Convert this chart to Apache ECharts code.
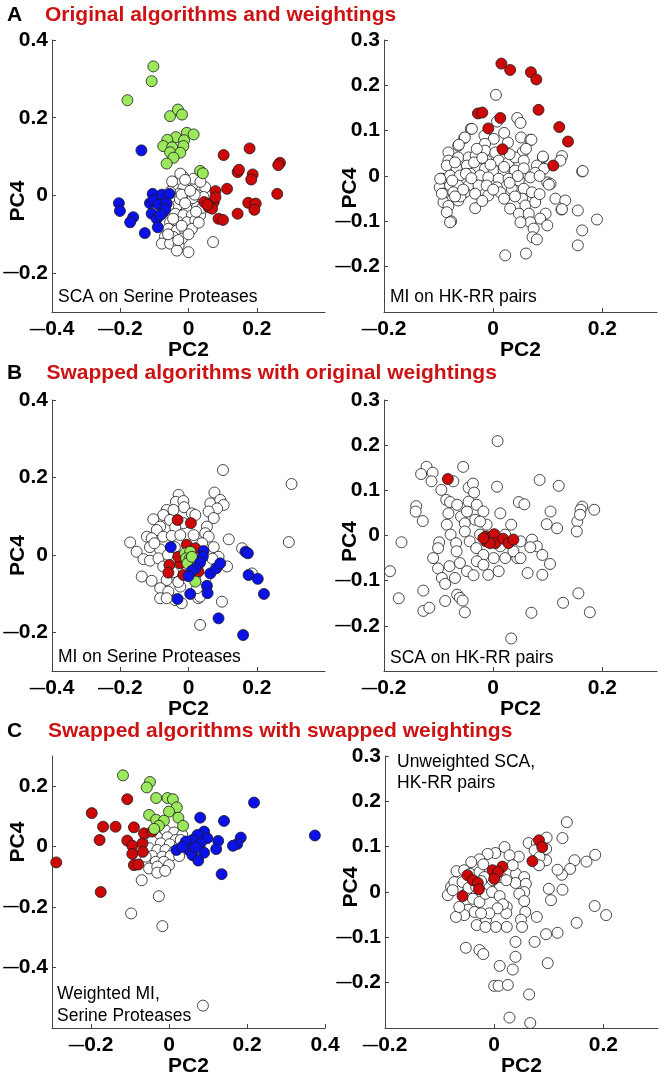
<!DOCTYPE html>
<html>
<head>
<meta charset="utf-8">
<script src="https://cdn.jsdelivr.net/npm/echarts@6.0.0/dist/echarts.min.js"></script>
<style>
html,body{margin:0;padding:0;background:#fff;}
#chart{width:664px;height:1081px;}
</style>
</head>
<body>
<div id="chart"></div>
<script>
// ---------------- DATA ----------------
// Panel A, left: SCA on Serine Proteases
const aLeftWhite = [[-0.016,0.049],[-0.032,0.034],[0.000,0.030],[0.026,0.026],[-0.044,0.021],[-0.015,0.020],[0.015,0.017],[0.039,0.013],[-0.029,0.004],[0.000,0.000],[0.029,0.000],[-0.044,-0.009],[-0.015,-0.013],[0.034,-0.013],[0.005,-0.021],[-0.034,-0.026],[-0.005,-0.034],[0.025,-0.030],[-0.039,-0.047],[-0.015,-0.051],[0.010,-0.051],[0.034,-0.051],[-0.054,-0.069],[-0.029,-0.069],[-0.005,-0.069],[0.020,-0.064],[-0.059,-0.086],[-0.034,-0.090],[-0.010,-0.090],[0.010,-0.086],[-0.069,-0.106],[-0.044,-0.107],[-0.019,-0.111],[-0.078,-0.124],[-0.054,-0.124],[-0.029,-0.129],[-0.034,-0.142],[0.000,-0.146],[0.072,-0.120],[-0.054,0.009],[0.049,0.021],[0.015,0.043],[-0.024,0.056],[0.044,-0.004],[-0.059,-0.026],[0.012,-0.007],[-0.025,-0.010],[0.040,-0.032],[-0.020,0.002],[0.018,0.002],[-0.048,0.036],[0.005,0.012],[-0.010,-0.020],[0.022,-0.042],[-0.045,-0.060],[-0.020,-0.078],[0.000,-0.100],[-0.060,-0.100],[-0.030,-0.115],[0.030,-0.070],[-0.010,0.040],[0.035,0.035]];
const aLeftRed = [[0.103,0.104],[0.179,0.121],[0.268,0.084],[0.263,0.078],[0.144,0.060],[0.148,0.066],[0.188,0.054],[0.184,0.041],[0.113,0.017],[0.079,0.011],[0.260,0.004],[0.175,-0.019],[0.197,-0.021],[0.193,-0.037],[0.144,-0.047],[0.046,-0.017],[0.074,-0.017],[0.059,-0.030],[0.069,-0.034],[0.088,-0.060],[0.101,-0.063],[0.079,-0.005],[0.055,-0.024]];
const aLeftGreen = [[-0.103,0.332],[-0.108,0.294],[-0.179,0.245],[-0.054,0.204],[-0.031,0.221],[-0.019,0.208],[-0.005,0.161],[0.015,0.157],[-0.037,0.150],[-0.062,0.143],[-0.013,0.142],[-0.074,0.127],[-0.048,0.124],[-0.015,0.127],[-0.054,0.111],[-0.024,0.110],[-0.044,0.097],[-0.064,0.082],[0.034,0.063],[0.042,0.057]];
const aLeftBlue = [[-0.138,0.116],[-0.204,-0.020],[-0.201,-0.040],[-0.162,-0.056],[-0.171,-0.069],[-0.128,-0.097],[-0.105,0.004],[-0.078,0.002],[-0.056,0.004],[-0.113,-0.020],[-0.103,-0.013],[-0.088,-0.023],[-0.064,-0.021],[-0.108,-0.047],[-0.074,-0.043],[-0.093,-0.060],[-0.090,-0.082],[-0.068,-0.035],[-0.082,-0.050]];

// Panel A, right: MI on HK-RR pairs
const aRightWhite = [[0.005,0.179],[-0.041,0.104],[0.007,0.120],[0.044,0.128],[0.050,0.117],[-0.053,0.084],[-0.016,0.089],[0.001,0.082],[0.027,0.074],[0.051,0.085],[0.068,0.080],[-0.064,0.067],[-0.015,0.071],[-0.015,0.056],[0.004,0.052],[0.054,0.052],[-0.082,0.052],[0.091,0.041],[0.126,0.044],[0.123,0.034],[0.163,0.010],[-0.082,0.034],[-0.064,0.041],[-0.045,0.041],[-0.032,0.045],[-0.012,0.034],[0.010,0.034],[0.028,0.030],[0.040,0.041],[0.056,0.034],[0.080,0.023],[0.093,0.016],[-0.085,0.023],[-0.067,0.017],[-0.048,0.023],[-0.030,0.019],[-0.015,0.016],[0.001,0.012],[0.019,0.012],[0.040,0.012],[0.056,0.017],[0.077,0.007],[-0.094,-0.006],[-0.079,0.001],[-0.061,0.001],[-0.042,0.005],[-0.024,0.001],[-0.009,-0.003],[0.010,-0.006],[0.028,-0.006],[0.047,-0.010],[0.068,-0.003],[0.099,-0.014],[0.105,-0.017],[-0.098,-0.025],[-0.079,-0.021],[-0.064,-0.021],[-0.045,-0.021],[-0.027,-0.021],[-0.012,-0.021],[0.007,-0.025],[0.034,-0.028],[0.056,-0.028],[0.071,-0.036],[-0.091,-0.039],[-0.073,-0.036],[-0.052,-0.036],[-0.033,-0.039],[-0.009,-0.043],[0.013,-0.036],[-0.091,-0.058],[-0.064,-0.054],[-0.082,-0.066],[-0.085,-0.080],[-0.077,-0.100],[-0.033,-0.071],[0.031,-0.072],[0.053,-0.050],[0.059,-0.065],[0.077,-0.058],[0.047,-0.083],[0.065,-0.083],[0.096,-0.083],[0.086,-0.094],[0.099,-0.109],[0.068,-0.102],[0.050,-0.102],[0.074,-0.116],[0.072,-0.135],[0.080,-0.140],[0.114,-0.050],[0.132,-0.054],[0.125,-0.074],[0.155,-0.076],[0.190,-0.096],[0.163,-0.120],[0.155,-0.153],[0.022,-0.175],[0.060,-0.171],[-0.039,0.104],[-0.052,0.085],[-0.063,0.069],[0.070,0.080],[0.164,0.011],[0.091,0.043],[0.102,-0.019],[0.126,-0.073],[-0.079,-0.102],[-0.094,-0.039],[-0.097,-0.006],[0.020,0.095],[-0.030,0.060],[0.030,0.048],[-0.050,0.005],[0.085,0.000],[-0.060,-0.045],[0.020,-0.050],[-0.020,-0.055],[-0.070,0.030],[-0.035,0.030],[-0.005,0.025],[0.045,0.000],[-0.075,-0.010],[-0.040,-0.005],[0.020,0.020],[-0.055,-0.030],[0.000,-0.030],[0.085,-0.040],[0.040,-0.045],[-0.070,-0.045],[0.060,0.060],[-0.020,0.040],[0.030,-0.015]];
const aRightRed = [[0.015,0.248],[0.031,0.234],[0.069,0.229],[0.079,0.213],[0.083,0.146],[-0.028,0.138],[-0.020,0.140],[0.013,0.128],[-0.009,0.105],[0.121,0.108],[0.137,0.076],[0.017,0.059],[0.110,0.023]];

// Panel B, left: MI on Serine Proteases
const bLeftWhite = [[0.101,0.219],[-0.029,0.155],[-0.037,0.137],[-0.015,0.139],[-0.013,0.123],[0.076,0.161],[0.064,0.133],[0.093,0.142],[0.103,0.129],[0.084,0.120],[0.059,0.112],[0.074,0.095],[-0.064,0.116],[-0.044,0.116],[-0.074,0.103],[-0.103,0.092],[-0.054,0.090],[0.010,0.107],[0.020,0.103],[-0.015,0.082],[-0.083,0.073],[-0.039,0.071],[-0.093,0.064],[0.054,0.073],[0.049,0.056],[0.059,0.047],[-0.122,0.047],[-0.108,0.043],[-0.074,0.047],[-0.049,0.049],[-0.024,0.051],[0.015,0.051],[-0.171,0.032],[-0.113,0.020],[-0.083,0.014],[-0.152,0.008],[-0.132,-0.011],[-0.113,-0.015],[-0.088,-0.009],[-0.074,-0.030],[0.118,0.040],[0.074,0.020],[0.088,-0.005],[0.113,-0.030],[-0.137,-0.056],[-0.108,-0.067],[-0.064,-0.065],[-0.083,-0.086],[-0.059,-0.095],[-0.039,-0.117],[-0.024,-0.082],[0.029,-0.112],[0.098,-0.121],[0.034,-0.181],[0.157,0.017],[0.302,0.183],[0.294,0.033],[0.186,-0.048],[-0.083,-0.112],[-0.064,-0.112],[-0.020,-0.125],[0.034,-0.108],[0.025,-0.086],[-0.100,0.030],[-0.060,0.000],[-0.040,0.020],[-0.045,-0.045],[0.040,0.030],[0.050,-0.060],[-0.030,-0.070],[0.070,-0.010]];
const bLeftRed = [[-0.032,0.090],[0.007,0.082],[-0.005,0.026],[0.020,0.017],[-0.024,-0.022],[-0.056,-0.026],[-0.059,-0.046],[-0.015,-0.052],[0.029,-0.043],[0.005,-0.013],[-0.030,-0.005]];
const bLeftGreen = [[-0.010,0.004],[0.005,0.008],[-0.007,-0.009],[0.003,-0.011],[0.023,-0.018],[-0.003,-0.022],[0.010,-0.005],[0.020,-0.069]];
const bLeftBlue = [[-0.052,0.020],[0.044,0.010],[0.042,-0.005],[0.034,-0.020],[0.020,-0.035],[0.010,-0.041],[0.000,-0.055],[0.064,-0.048],[0.081,-0.035],[0.093,-0.022],[0.054,-0.080],[0.056,-0.099],[0.005,-0.101],[-0.032,-0.114],[0.088,-0.164],[0.160,-0.207],[0.167,0.008],[0.174,0.004],[0.176,-0.052],[0.203,-0.062],[0.221,-0.101]];

// Panel B, right: SCA on HK-RR pairs
const bRightWhite = [[0.008,0.209],[-0.122,0.152],[-0.055,0.152],[-0.132,0.136],[-0.111,0.139],[-0.113,0.120],[-0.073,0.120],[-0.095,0.101],[-0.045,0.106],[-0.037,0.115],[-0.035,0.095],[0.007,0.108],[0.085,0.123],[0.120,0.110],[-0.141,0.065],[-0.142,0.053],[-0.129,0.032],[-0.086,0.079],[-0.079,0.074],[-0.066,0.068],[-0.045,0.075],[-0.030,0.068],[-0.018,0.053],[0.013,0.049],[-0.082,0.049],[-0.059,0.042],[-0.033,0.035],[-0.052,0.027],[-0.012,0.024],[-0.085,0.024],[0.033,0.024],[0.047,0.074],[0.057,0.069],[0.105,0.053],[0.098,0.025],[0.117,0.016],[0.154,0.031],[0.163,0.064],[0.160,0.057],[0.159,0.046],[0.185,0.057],[0.153,0.009],[-0.168,-0.015],[-0.189,-0.079],[-0.099,-0.015],[-0.101,-0.028],[-0.078,0.002],[-0.068,-0.017],[-0.052,0.009],[-0.043,-0.013],[-0.031,-0.028],[-0.024,0.002],[0.050,-0.013],[0.071,-0.009],[0.080,-0.024],[0.090,-0.043],[0.104,-0.063],[-0.110,-0.050],[-0.101,-0.073],[-0.080,-0.068],[-0.061,-0.061],[-0.048,-0.079],[-0.036,-0.088],[-0.018,-0.043],[-0.009,-0.087],[0.010,-0.079],[0.001,-0.050],[0.022,-0.050],[0.044,-0.050],[0.013,-0.024],[0.063,-0.083],[0.090,-0.087],[-0.094,-0.094],[-0.088,-0.107],[-0.070,-0.094],[-0.128,-0.122],[-0.173,-0.139],[-0.088,-0.145],[-0.066,-0.131],[-0.061,-0.138],[-0.056,-0.144],[-0.128,-0.167],[-0.117,-0.160],[-0.052,-0.170],[0.070,-0.171],[0.128,-0.149],[0.156,-0.128],[0.177,-0.170],[0.033,-0.228],[-0.048,0.053],[-0.024,0.031],[0.022,0.002],[0.037,-0.035],[0.050,-0.050],[-0.030,-0.057],[-0.018,-0.065],[0.068,-0.026],[-0.067,-0.035]];
const bRightRed = [[-0.083,0.125],[-0.013,-0.002],[-0.013,-0.013],[-0.006,-0.006],[0.002,0.003],[0.004,-0.017],[0.018,-0.007],[0.028,-0.017],[0.037,-0.009],[-0.006,-0.017],[-0.018,-0.006]];

// Panel C, left: Weighted MI, Serine Proteases
const cLeftWhite = [[-0.070,-0.111],[-0.026,-0.164],[-0.097,-0.221],[-0.017,-0.263],[0.087,-0.526],[-0.010,0.055],[0.013,0.047],[0.034,0.039],[-0.030,0.031],[-0.004,0.031],[0.017,0.022],[-0.043,0.017],[-0.021,0.011],[0.002,0.008],[0.026,0.000],[-0.051,-0.005],[-0.030,-0.011],[-0.009,-0.011],[0.013,-0.017],[-0.043,-0.031],[-0.017,-0.033],[0.004,-0.031],[0.026,-0.031],[-0.034,-0.050],[-0.013,-0.050],[-0.051,-0.072],[-0.030,-0.066],[0.000,-0.061],[-0.030,-0.086],[-0.010,-0.080],[-0.060,-0.033],[0.030,0.022]];
const cLeftRed = [[-0.289,-0.052],[-0.198,0.111],[-0.107,0.157],[-0.169,0.066],[-0.137,0.066],[-0.178,0.022],[-0.175,-0.150],[-0.090,0.064],[-0.107,0.020],[-0.094,0.003],[-0.068,0.011],[-0.064,0.044],[-0.043,0.050],[-0.094,-0.024],[-0.067,-0.017],[-0.090,-0.061],[-0.079,-0.059]];
const cLeftGreen = [[-0.118,0.236],[-0.049,0.214],[-0.057,0.196],[-0.033,0.161],[-0.004,0.161],[0.010,0.157],[0.020,0.130],[0.000,0.116],[-0.051,0.105],[-0.033,0.089],[-0.013,0.086],[0.024,0.096],[-0.026,0.069],[-0.038,0.059],[0.036,0.069]];
const cLeftBlue = [[0.218,0.146],[0.374,0.037],[0.080,0.096],[0.141,0.085],[0.090,0.050],[0.073,0.039],[0.098,0.028],[0.060,0.022],[0.043,0.017],[0.081,0.011],[0.126,0.019],[0.121,-0.008],[0.184,0.030],[0.175,0.009],[0.164,0.003],[0.019,-0.011],[0.051,-0.011],[0.060,-0.028],[0.090,-0.020],[0.075,-0.046],[0.135,-0.091],[0.034,0.000],[0.068,-0.002]];

// Panel C, right: Unweighted SCA, HK-RR pairs
const cRightWhite = [[0.133,0.154],[0.125,0.119],[0.096,0.120],[0.095,0.095],[0.095,0.070],[0.147,0.070],[0.169,0.067],[0.185,0.082],[0.139,0.051],[0.124,0.038],[0.116,0.049],[0.125,0.005],[0.100,0.007],[0.104,-0.018],[0.184,-0.031],[0.205,-0.051],[0.151,-0.068],[0.116,-0.090],[0.095,-0.093],[0.074,-0.110],[0.098,-0.157],[0.039,-0.110],[0.039,-0.143],[0.034,-0.171],[0.010,-0.163],[-0.052,-0.123],[-0.027,-0.128],[-0.020,-0.137],[0.000,-0.207],[0.008,-0.207],[0.025,-0.205],[0.064,-0.226],[0.028,-0.277],[0.066,-0.289],[0.063,0.108],[0.078,0.108],[0.074,0.092],[0.083,0.077],[0.082,0.059],[0.045,0.078],[0.002,0.086],[0.019,0.099],[0.028,0.081],[-0.012,0.084],[-0.027,0.072],[-0.042,0.066],[0.040,0.040],[0.055,0.033],[0.039,0.020],[0.058,0.018],[0.055,0.000],[0.046,-0.004],[0.055,-0.020],[0.023,-0.033],[0.022,-0.047],[0.057,-0.044],[0.049,-0.061],[0.051,-0.077],[0.078,-0.055],[0.023,-0.077],[0.003,-0.077],[-0.015,-0.061],[-0.032,-0.073],[-0.016,-0.077],[-0.048,-0.039],[-0.036,-0.044],[-0.055,-0.051],[-0.070,-0.055],[-0.064,-0.033],[-0.085,-0.007],[-0.079,0.011],[-0.073,0.022],[-0.069,0.046],[-0.058,0.022],[-0.076,0.004],[-0.052,-0.004],[-0.039,-0.015],[-0.027,-0.022],[-0.016,-0.004],[-0.009,0.015],[-0.003,0.026],[-0.004,0.000],[0.010,-0.009],[0.016,-0.027],[0.006,-0.036],[-0.009,-0.047],[-0.024,-0.047],[-0.055,0.048],[-0.044,0.040],[-0.027,0.044],[-0.018,0.033],[0.012,0.033],[0.022,0.026],[-0.020,0.061],[0.034,0.059],[-0.047,0.009],[-0.033,0.011],[-0.024,0.024]];
const cRightRed = [[0.082,0.114],[0.088,0.099],[0.070,0.068],[0.015,0.056],[-0.003,0.048],[0.007,0.044],[0.000,0.029],[-0.049,0.037],[-0.039,0.026],[-0.030,0.020],[-0.028,0.006],[-0.058,-0.009]];

// Axis ranges and tick labels
const leftSerineXRange = [-0.4, 0.4], leftSerineXTicks = [-0.4, -0.2, 0, 0.2];
const leftSerineYRange = [-0.3, 0.4], leftSerineYTicks = [0.4, 0.2, 0, -0.2];
const hkXRange = [-0.2, 0.3], hkXTicks = [-0.2, 0, 0.2];
const hkYRange = [-0.3, 0.3], hkYTicks = [0.3, 0.2, 0.1, 0, -0.1, -0.2];
const cLeftXRange = [-0.3, 0.4], cLeftXTicks = [-0.2, 0, 0.2, 0.4];
const cLeftYRange = [-0.6, 0.3], cLeftYTicks = [0.2, 0, -0.2, -0.4];

// Texts
const panelLetters = ['A', 'B', 'C'];
const panelTitles = ['Original algorithms and weightings', 'Swapped algorithms with original weightings', 'Swapped algorithms with swapped weightings'];
const panelNotes = ['SCA on Serine Proteases', 'MI on HK-RR pairs', 'MI on Serine Proteases', 'SCA on HK-RR pairs', 'Weighted MI,\nSerine Proteases', 'Unweighted SCA,\nHK-RR pairs'];
const xName = 'PC2', yName = 'PC4';

// ---------------- STYLE / LAYOUT ----------------
const FONT = "'Liberation Sans', Arial, Helvetica, sans-serif";
const COLORS = { white: '#ffffff', red: '#cc0808', green: '#9be85c', blue: '#0a12e8' };
const TITLE_RED = '#cc1212';

// yShift: vertical offset (px, + = down) of the PC4 label from the axis middle
const panels = [
  { grid: { left: 52, top: 40, width: 273, height: 272 }, xr: leftSerineXRange, xt: leftSerineXTicks, yr: leftSerineYRange, yt: leftSerineYTicks, yShift: 25,
    groups: { white: aLeftWhite, red: aLeftRed, green: aLeftGreen, blue: aLeftBlue } },
  { grid: { left: 384, top: 40, width: 273, height: 272 }, xr: hkXRange, xt: hkXTicks, yr: hkYRange, yt: hkYTicks, yShift: 12,
    groups: { white: aRightWhite, red: aRightRed } },
  { grid: { left: 52, top: 400, width: 273, height: 271 }, xr: leftSerineXRange, xt: leftSerineXTicks, yr: leftSerineYRange, yt: leftSerineYTicks, yShift: 20,
    groups: { white: bLeftWhite, red: bLeftRed, green: bLeftGreen, blue: bLeftBlue } },
  { grid: { left: 384, top: 400, width: 273, height: 271 }, xr: hkXRange, xt: hkXTicks, yr: hkYRange, yt: hkYTicks, yShift: 6,
    groups: { white: bRightWhite, red: bRightRed } },
  { grid: { left: 52, top: 756, width: 273, height: 272 }, xr: cLeftXRange, xt: cLeftXTicks, yr: cLeftYRange, yt: cLeftYTicks, yShift: -50,
    groups: { white: cLeftWhite, red: cLeftRed, green: cLeftGreen, blue: cLeftBlue } },
  { grid: { left: 385, top: 756, width: 273, height: 272 }, xr: hkXRange, xt: hkXTicks, yr: hkYRange, yt: hkYTicks, yShift: -5,
    groups: { white: cRightWhite, red: cRightRed } }
];

function fmt(v) {
  if (Math.abs(v) < 1e-9) return '0';
  return (v < 0 ? '{d|\u2014}' : '') + Math.abs(v).toFixed(1);
}
function makeFormatter(ticks) {
  return function (v) {
    for (const t of ticks) if (Math.abs(t - v) < 1e-6) return fmt(v);
    return '';
  };
}

const labelFont = { fontFamily: FONT, fontWeight: 'bold', fontSize: 21, color: '#000' };
const dashRich = { d: { fontFamily: FONT, fontWeight: 'bold', fontSize: 15.5, color: '#000' } };
const grids = [], xAxes = [], yAxes = [], series = [];
panels.forEach((p, i) => {
  grids.push(Object.assign({ containLabel: false, outerBoundsMode: 'none', show: false }, p.grid));
  const s = p.yShift;
  const namePad = s >= 0 ? [0, 2 * s, 0, 0] : [0, 0, 0, -2 * s];
  xAxes.push({
    type: 'value', gridIndex: i, min: p.xr[0], max: p.xr[1], interval: 0.1,
    name: xName, nameLocation: 'middle', nameGap: 28, nameMoveOverlap: false,
    nameTextStyle: labelFont,
    axisLine: { show: true, onZero: false, lineStyle: { color: '#444', width: 1 } },
    axisTick: { show: true, inside: true, length: 4, customValues: p.xt, lineStyle: { color: '#444' } },
    axisLabel: Object.assign({ customValues: p.xt, formatter: makeFormatter(p.xt), margin: 7, hideOverlap: false, rich: dashRich }, labelFont),
    splitLine: { show: false }
  });
  yAxes.push({
    type: 'value', gridIndex: i, min: p.yr[0], max: p.yr[1], interval: 0.1,
    name: yName, nameLocation: 'middle', nameGap: 23, nameMoveOverlap: false,
    nameTextStyle: Object.assign({ padding: namePad }, labelFont),
    axisLine: { show: true, onZero: false, lineStyle: { color: '#444', width: 1 } },
    axisTick: { show: true, inside: true, length: 4, customValues: p.yt, lineStyle: { color: '#444' } },
    axisLabel: Object.assign({ customValues: p.yt, formatter: makeFormatter(p.yt), margin: 4, hideOverlap: false, rich: dashRich }, labelFont),
    splitLine: { show: false }
  });
  ['white', 'red', 'green', 'blue'].forEach(g => {
    if (!p.groups[g]) return;
    series.push({
      type: 'scatter', xAxisIndex: i, yAxisIndex: i, data: p.groups[g],
      symbol: 'circle', symbolSize: 11, silent: true,
      itemStyle: { color: COLORS[g], borderColor: '#1a1a1a', borderWidth: 0.8, opacity: 1 }
    });
  });
});

const titleY = [15, 373, 731.5];
const titleX = [45, 46.5, 48];
const graphics = [];
panelLetters.forEach((L, k) => {
  graphics.push({ type: 'text', x: 7, y: titleY[k], style: { text: L, fill: '#000', fontFamily: FONT, fontWeight: 'bold', fontSize: 21, verticalAlign: 'middle', align: 'left' } });
  graphics.push({ type: 'text', x: titleX[k], y: titleY[k], style: { text: panelTitles[k], fill: TITLE_RED, fontFamily: FONT, fontWeight: 'bold', fontSize: 21, verticalAlign: 'middle', align: 'left' } });
});
const notePos = [[58, 297], [390, 297], [58, 657], [390, 658], [57, 983.5], [397, 751]];
panelNotes.forEach((t, k) => {
  const multi = t.indexOf('\n') >= 0;
  graphics.push({ type: 'text', x: notePos[k][0], y: notePos[k][1], style: { text: t, fill: '#000', fontFamily: FONT, fontSize: 17.5, lineHeight: 21.5, verticalAlign: multi ? 'top' : 'middle', align: 'left' } });
});

const chart = echarts.init(document.getElementById('chart'), null, { renderer: 'canvas' });
chart.setOption({
  animation: false,
  backgroundColor: '#fff',
  grid: grids, xAxis: xAxes, yAxis: yAxes, series: series,
  graphic: graphics
});
</script>
</body>
</html>
